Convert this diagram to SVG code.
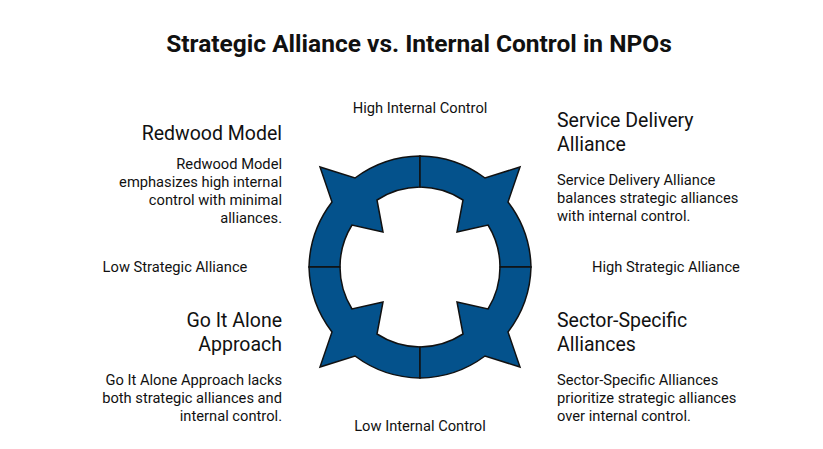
<svg xmlns="http://www.w3.org/2000/svg" width="823" height="449" viewBox="0 0 823 449">
<style>
text{font-family:Roboto,"Liberation Sans",sans-serif;fill:#111}
.t{font-size:24.5px;font-weight:bold}
.h{font-size:19.5px}
.b{font-size:14.7px}
.a{font-size:14.7px}
.q{fill:#04528c;stroke:#111;stroke-width:1.5;stroke-linejoin:miter}
</style>
<defs>
<path id="seg" class="q" d="M309,267 A111,111 0 0 1 332,202 L320,167 L355,178 A111,111 0 0 1 420,156 L420,187 A80,80 0 0 0 377,200 L383,232 L352,225 A80,80 0 0 0 340,267 Z"/>
</defs>
<rect width="823" height="449" fill="#fff"/>
<text class="t" x="419" y="52" text-anchor="middle">Strategic Alliance vs. Internal Control in NPOs</text>
<g id="ring">
<use href="#seg"/>
<use href="#seg" transform="translate(840,0) scale(-1,1)"/>
<use href="#seg" transform="translate(0,534) scale(1,-1)"/>
<use href="#seg" transform="translate(840,534) scale(-1,-1)"/>
</g>
<g id="axes">
<text class="a" x="420" y="113" text-anchor="middle">High Internal Control</text>
<text class="a" x="420" y="431" text-anchor="middle">Low Internal Control</text>
<text class="a" x="175" y="272" text-anchor="middle">Low Strategic Alliance</text>
<text class="a" x="666" y="272" text-anchor="middle">High Strategic Alliance</text>
</g>
<g id="redwood" text-anchor="end">
<text class="h" x="282" y="140">Redwood Model</text>
<text class="b" x="282" y="169">Redwood Model</text>
<text class="b" x="282" y="187">emphasizes high internal</text>
<text class="b" x="282" y="205">control with minimal</text>
<text class="b" x="282" y="223">alliances.</text>
</g>
<g id="service">
<text class="h" x="557" y="127">Service Delivery</text>
<text class="h" x="557" y="151">Alliance</text>
<text class="b" x="557" y="185">Service Delivery Alliance</text>
<text class="b" x="557" y="203">balances strategic alliances</text>
<text class="b" x="557" y="221">with internal control.</text>
</g>
<g id="goalone" text-anchor="end">
<text class="h" x="282" y="327">Go It Alone</text>
<text class="h" x="282" y="351">Approach</text>
<text class="b" x="282" y="385">Go It Alone Approach lacks</text>
<text class="b" x="282" y="403">both strategic alliances and</text>
<text class="b" x="282" y="421">internal control.</text>
</g>
<g id="sector">
<text class="h" x="557" y="327">Sector-Specific</text>
<text class="h" x="557" y="351">Alliances</text>
<text class="b" x="557" y="385">Sector-Specific Alliances</text>
<text class="b" x="557" y="403">prioritize strategic alliances</text>
<text class="b" x="557" y="421">over internal control.</text>
</g>
</svg>
